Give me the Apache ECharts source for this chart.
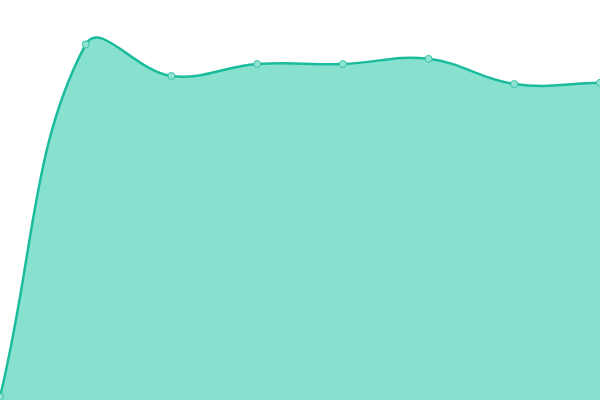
<!DOCTYPE html>
<html><head><meta charset="utf-8">
<script src="https://cdn.jsdelivr.net/npm/echarts@6/dist/echarts.min.js"></script>
<style>html,body{margin:0;padding:0;background:#fff}#c{width:600px;height:400px}</style>
</head><body><div id="c"></div>
<script>
const categories = ['1','2','3','4','5','6','7','8'];
const values = [0.8, 88.9, 81, 84, 84, 85.3, 79, 79.3];
const tension = 0.4;
const chart = echarts.init(document.getElementById('c'));

function controlPoints(pts) {
  const n = pts.length, cps = [];
  for (let i = 0; i < n; i++) {
    const prev = pts[Math.max(i - 1, 0)], cur = pts[i], next = pts[Math.min(i + 1, n - 1)];
    const d01 = Math.hypot(cur[0] - prev[0], cur[1] - prev[1]);
    const d12 = Math.hypot(next[0] - cur[0], next[1] - cur[1]);
    let s01 = d01 / (d01 + d12), s12 = d12 / (d01 + d12);
    if (isNaN(s01)) s01 = 0; if (isNaN(s12)) s12 = 0;
    const fa = tension * s01, fb = tension * s12;
    cps.push({
      p: [cur[0] - fa * (next[0] - prev[0]), cur[1] - fa * (next[1] - prev[1])],
      n: [cur[0] + fb * (next[0] - prev[0]), cur[1] + fb * (next[1] - prev[1])]
    });
  }
  return cps;
}

chart.setOption({
  animation: false,
  grid: {left: 0, right: 0, top: 0, bottom: 0},
  xAxis: {type: 'category', data: categories, boundaryGap: false, show: false},
  yAxis: {type: 'value', min: 0, max: 100, show: false},
  series: [{
    type: 'custom',
    data: values.map((v, i) => [i, v]),
    encode: {x: 0, y: 1},
    clip: true,
    renderItem: function (params, api) {
      if (params.dataIndex !== 0) return;
      const pts = values.map((v, i) => api.coord([i, v]));
      const cps = controlPoints(pts);
      let d = 'M' + pts[0][0] + ' ' + pts[0][1];
      for (let i = 1; i < pts.length; i++) {
        const a = cps[i - 1].n, b = cps[i].p;
        d += ' C' + a[0] + ' ' + a[1] + ' ' + b[0] + ' ' + b[1] + ' ' + pts[i][0] + ' ' + pts[i][1];
      }
      const base = api.coord([0, 0])[1];
      const area = d + ' L' + pts[pts.length - 1][0] + ' ' + base + ' L' + pts[0][0] + ' ' + base + ' Z';
      return {
        type: 'group',
        children: [
          {type: 'path', shape: {pathData: area}, style: {fill: '#88e0cf', stroke: null}},
          {type: 'path', shape: {pathData: d}, style: {fill: null, stroke: '#1abc9c', lineWidth: 2.5}}
        ]
      };
    },
    z: 1
  }, {
    type: 'scatter',
    data: values,
    symbol: 'circle',
    symbolSize: 7,
    itemStyle: {color: '#90e2d2', borderColor: '#3cc4a8', borderWidth: 1, opacity: 1},
    z: 2
  }]
});
</script></body></html>
